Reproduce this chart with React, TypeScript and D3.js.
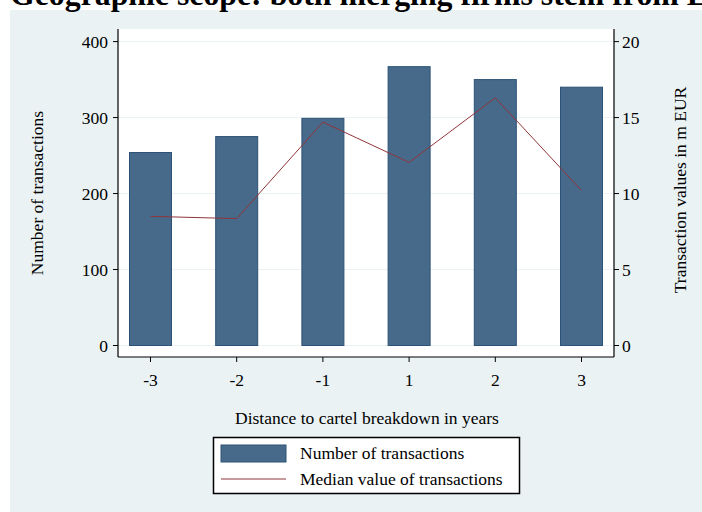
import * as d3 from 'd3'

const years = ['-3', '-2', '-1', '1', '2', '3'];
const transactions = [254, 275, 299, 367, 350, 340];
const medianValue = [8.5, 8.35, 14.7, 12.05, 16.3, 10.2];
const leftTicks = [0, 100, 200, 300, 400];
const rightTicks = [0, 5, 10, 15, 20];

function App() {
  const width = 702;
  const height = 512;
  const left = 118;
  const right = 614;
  const top = 29;
  const bottom = 357;
  const font = '"Liberation Serif", "Times New Roman", serif';

  const x = d3.scalePoint<string>().domain(years).range([left, right]).padding(0.377);
  const yL = d3.scaleLinear().domain([0, 400]).range([345.5, 41.6]);
  const yR = d3.scaleLinear().domain([0, 20]).range([345.5, 41.6]);
  const barW = 42;

  const line = d3.line<number>()
    .x((_, i) => x(years[i]) as number)
    .y(d => yR(d));

  return (
    <svg width={width} height={height} style={{ position: 'absolute', left: 0, top: 0 }}>
      <rect x={0} y={0} width={width} height={height} fill="#ffffff" />
      <rect x={10} y={10} width={width - 10} height={height - 10} fill="#eaf2f3" />
      <text x={10} y={5} fontFamily={font} fontWeight="bold" fontSize={31.8} fill="#000">
        Geographic scope: both merging firms stem from EU
      </text>
      <rect x={left} y={top} width={right - left} height={bottom - top} fill="#ffffff" />
      {leftTicks.map(t => (
        <line key={'g' + t} x1={left} x2={right} y1={yL(t)} y2={yL(t)} stroke="#eaf2f3" strokeWidth={1} />
      ))}
      {transactions.map((v, i) => (
        <rect
          key={i}
          x={(x(years[i]) as number) - barW / 2}
          y={yL(v)}
          width={barW}
          height={yL(0) - yL(v)}
          fill="#476a8a"
          stroke="#2b5277"
          strokeWidth={1}
        />
      ))}
      <path d={line(medianValue) as string} fill="none" stroke="#90353b" strokeWidth={1} />

      {/* axes */}
      <line x1={left} x2={left} y1={top} y2={bottom} stroke="#000" strokeWidth={1.2} />
      <line x1={right} x2={right} y1={top} y2={bottom} stroke="#000" strokeWidth={1.2} />
      <line x1={left} x2={right} y1={bottom} y2={bottom} stroke="#000" strokeWidth={1.2} />
      {leftTicks.map(t => (
        <g key={'l' + t}>
          <line x1={left - 5} x2={left} y1={yL(t)} y2={yL(t)} stroke="#000" />
          <text x={left - 10} y={yL(t) + 6} textAnchor="end" fontFamily={font} fontSize={17.5}>{t}</text>
        </g>
      ))}
      {rightTicks.map(t => (
        <g key={'r' + t}>
          <line x1={right} x2={right + 5} y1={yR(t)} y2={yR(t)} stroke="#000" />
          <text x={right + 8} y={yR(t) + 6} textAnchor="start" fontFamily={font} fontSize={17.5}>{t}</text>
        </g>
      ))}
      {years.map(yr => (
        <g key={'x' + yr}>
          <line x1={x(yr)} x2={x(yr)} y1={bottom} y2={bottom + 5} stroke="#000" />
          <text x={x(yr)} y={386} textAnchor="middle" fontFamily={font} fontSize={17.5}>{yr}</text>
        </g>
      ))}
      <text x={367} y={424} textAnchor="middle" fontFamily={font} fontSize={17.5}>
        Distance to cartel breakdown in years
      </text>
      <text transform="translate(43,193) rotate(-90)" textAnchor="middle" fontFamily={font} fontSize={17.5}>
        Number of transactions
      </text>
      <text transform="translate(686,190) rotate(-90)" textAnchor="middle" fontFamily={font} fontSize={17.5}>
        Transaction values in m EUR
      </text>

      {/* legend */}
      <rect x={213.5} y={437.5} width={306} height={56} fill="#ffffff" stroke="#000" strokeWidth={1.5} />
      <rect x={221} y={445} width={65} height={17} fill="#476a8a" stroke="#2b5277" strokeWidth={1} />
      <line x1={221} x2={286} y1={479} y2={479} stroke="#90353b" strokeWidth={1} />
      <text x={300} y={459} fontFamily={font} fontSize={17.5}>Number of transactions</text>
      <text x={300} y={485} fontFamily={font} fontSize={17.5}>Median value of transactions</text>
    </svg>
  );
}

export default App;
